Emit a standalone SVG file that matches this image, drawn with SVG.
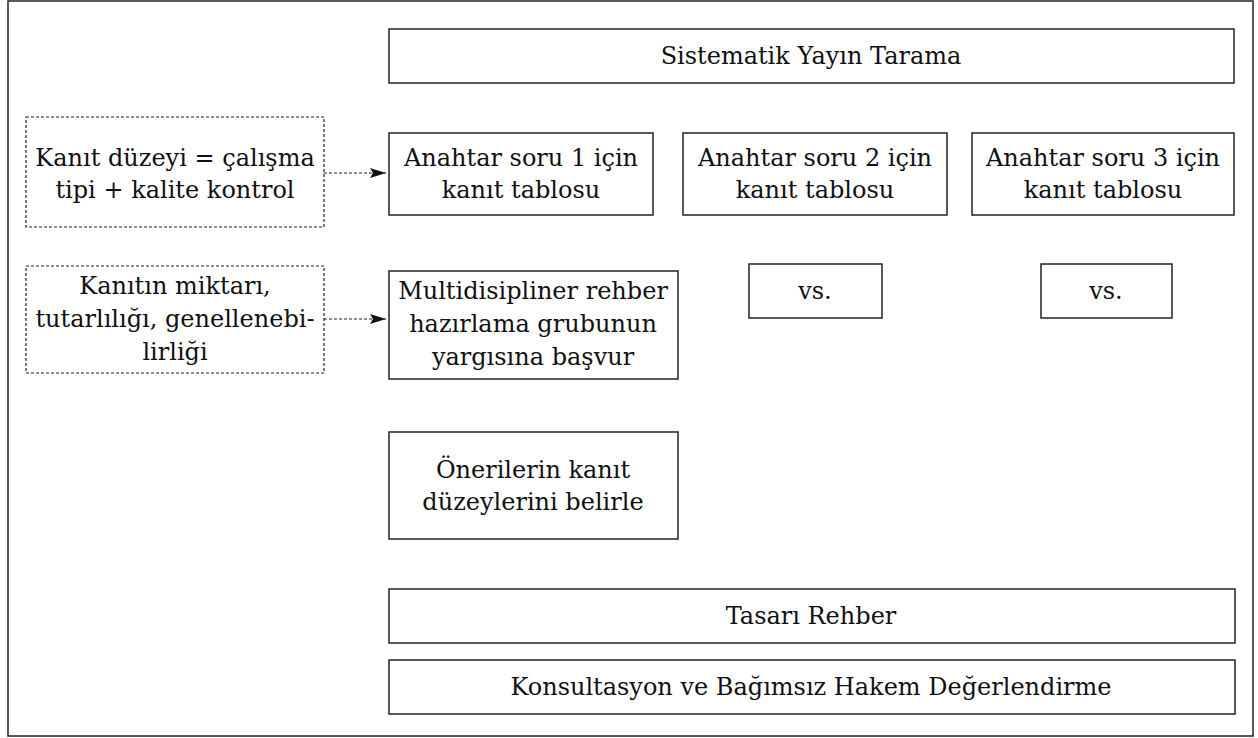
<svg xmlns="http://www.w3.org/2000/svg" width="1258" height="738" viewBox="0 0 1258 738">
<style>
.b{fill:#fff;stroke:#222;stroke-width:1.5}
.d{fill:#fff;stroke:#222;stroke-width:1.2;stroke-dasharray:3 2}
.t{font-family:"DejaVu Serif","Liberation Serif",serif;font-size:24px;fill:#111;text-anchor:middle;dominant-baseline:central}
.c{fill:none;stroke:#222;stroke-width:1.2;stroke-dasharray:3 2}
</style>
<defs>
<marker id="ah" markerWidth="16" markerHeight="10" refX="16" refY="5" orient="auto" markerUnits="userSpaceOnUse">
<path d="M0,0 L16,5 L0,10 L3,5 Z" fill="#111"/>
</marker>
</defs>
<rect x="8" y="1" width="1245" height="735" fill="#fff" stroke="#222" stroke-width="1.5"/>
<g id="n-sistematik"><rect class="b" x="389" y="29" width="845" height="54"/><text class="t" x="811" y="56">Sistematik Yayın Tarama</text></g>
<g id="n-kd"><rect class="d" x="26" y="117" width="298" height="110"/><text class="t" x="175" y="158">Kanıt düzeyi = çalışma</text><text class="t" x="175" y="190">tipi + kalite kontrol</text></g>
<g id="n-a1"><rect class="b" x="389" y="133" width="264" height="82"/><text class="t" x="521" y="158">Anahtar soru 1 için</text><text class="t" x="521" y="190">kanıt tablosu</text></g>
<g id="n-a2"><rect class="b" x="683" y="133" width="264" height="82"/><text class="t" x="815" y="158">Anahtar soru 2 için</text><text class="t" x="815" y="190">kanıt tablosu</text></g>
<g id="n-a3"><rect class="b" x="972" y="133" width="262" height="82"/><text class="t" x="1103" y="158">Anahtar soru 3 için</text><text class="t" x="1103" y="190">kanıt tablosu</text></g>
<g id="n-km"><rect class="d" x="26" y="266" width="298" height="107"/><text class="t" x="175" y="286">Kanıtın miktarı,</text><text class="t" x="175" y="319">tutarlılığı, genellenebi-</text><text class="t" x="175" y="352">lirliği</text></g>
<g id="n-multi"><rect class="b" x="389" y="271" width="289" height="108"/><text class="t" x="533" y="291">Multidisipliner rehber</text><text class="t" x="533" y="324">hazırlama grubunun</text><text class="t" x="533" y="357">yargısına başvur</text></g>
<g id="n-vs1"><rect class="b" x="749" y="264" width="133" height="54"/><text class="t" x="815" y="291">vs.</text></g>
<g id="n-vs2"><rect class="b" x="1041" y="264" width="131" height="54"/><text class="t" x="1106" y="291">vs.</text></g>
<g id="n-oner"><rect class="b" x="389" y="432" width="289" height="107"/><text class="t" x="533" y="470">Önerilerin kanıt</text><text class="t" x="533" y="502">düzeylerini belirle</text></g>
<g id="n-tasari"><rect class="b" x="389" y="589" width="846" height="54"/><text class="t" x="811" y="616">Tasarı Rehber</text></g>
<g id="n-kons"><rect class="b" x="389" y="660" width="846" height="54"/><text class="t" x="811" y="687">Konsultasyon ve Bağımsız Hakem Değerlendirme</text></g>
<g id="connectors">
<line class="c" x1="324" y1="173" x2="386" y2="173" marker-end="url(#ah)"/>
<line class="c" x1="324" y1="319" x2="386" y2="319" marker-end="url(#ah)"/>
</g>
</svg>
